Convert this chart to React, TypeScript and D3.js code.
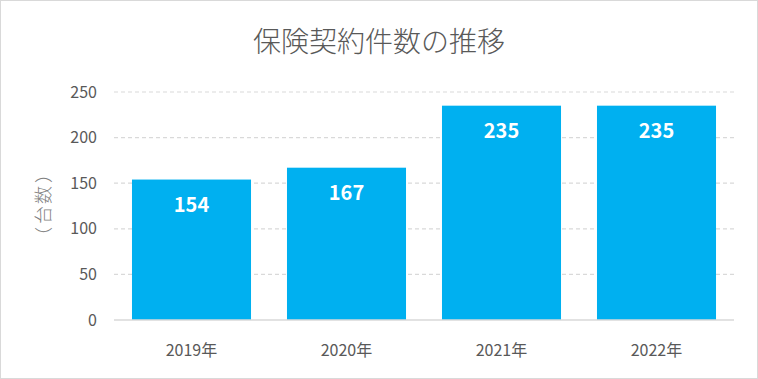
import React from "react";
import * as d3 from "d3";

const categories = ["2019年", "2020年", "2021年", "2022年"];
const values = [154, 167, 235, 235];
const yTicks = [0, 50, 100, 150, 200, 250];
const title = "保険契約件数の推移";
const yTitle = "（台数）";

export default function App() {
  const W = 758, H = 379;
  const left = 114, right = 734, top = 92, bottom = 320;
  const x = d3.scaleBand<string>().domain(categories).range([left, right]).paddingInner(0.232).paddingOuter(0.116);
  const y = d3.scaleLinear().domain([0, 250]).range([bottom, top]);
  const font = "'Noto Sans CJK JP', 'Noto Sans', sans-serif";
  const chars = Array.from(yTitle);
  const offsets = [-31, -10, 10, 31];
  return (
    <svg width={W} height={H} style={{ position: "absolute", left: 0, top: 0 }} fontFamily={font}>
      <rect x={0.5} y={0.5} width={W - 1} height={H - 1} fill="#fff" stroke="#d9d9d9" />
      <text x={W / 2} y={42} dy="0.35em" textAnchor="middle" fontSize={28} fill="#595959" fontWeight={300}>{title}</text>
      {yTicks.filter(t => t > 0).map(t => (
        <line key={t} x1={left} x2={right} y1={y(t)} y2={y(t)} stroke="#d9d9d9" strokeWidth={1.2} strokeDasharray="4 3" />
      ))}
      {yTicks.map(t => (
        <text key={t} x={97} y={y(t)} dy="0.35em" textAnchor="end" fontSize={16} fill="#595959">{t}</text>
      ))}
      <g transform={`translate(44,205) rotate(-90)`}>
        {chars.map((ch, i) => (
          <text key={i} x={offsets[i]} y={0} dy="0.35em" textAnchor="middle" fontSize={18} fontWeight={300} fill="#7f7f7f">{ch}</text>
        ))}
      </g>
      {values.map((v, i) => (
        <g key={i}>
          <rect x={x(categories[i])} y={y(v)} width={x.bandwidth()} height={bottom - y(v)} fill="#00B0F0" />
          <text x={(x(categories[i]) as number) + x.bandwidth() / 2} y={y(v) + 25} dy="0.35em" textAnchor="middle" fontSize={20} fontWeight={700} fill="#fff">{v}</text>
        </g>
      ))}
      <line x1={left} x2={right} y1={bottom} y2={bottom} stroke="#d9d9d9" strokeWidth={1.5} />
      {categories.map(c => (
        <text key={c} x={(x(c) as number) + x.bandwidth() / 2} y={350} dy="0.35em" textAnchor="middle" fontSize={16} fill="#595959">{c}</text>
      ))}
    </svg>
  );
}
